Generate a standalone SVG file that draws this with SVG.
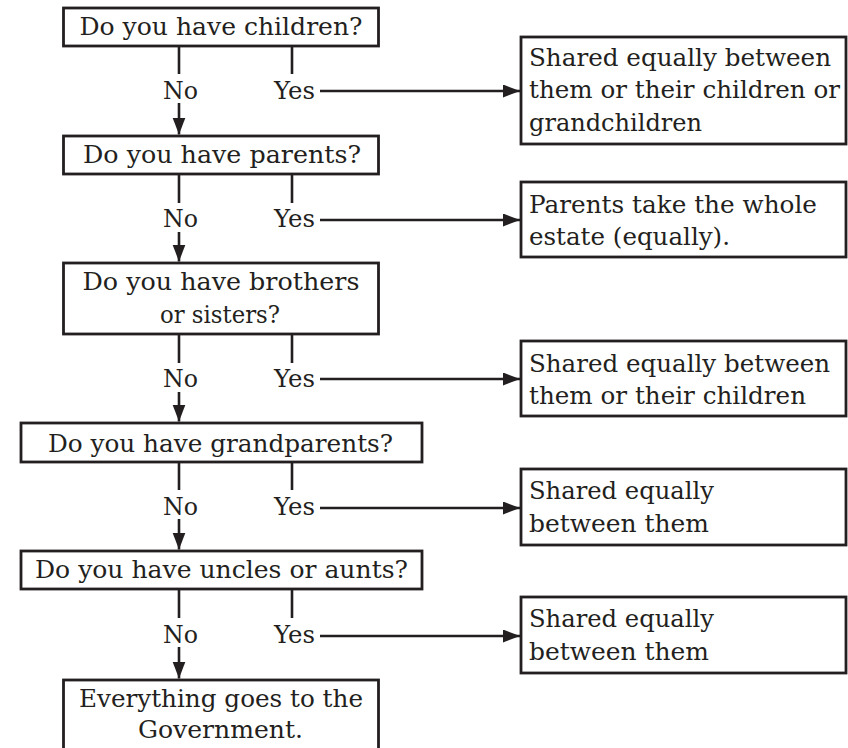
<svg xmlns="http://www.w3.org/2000/svg" width="848" height="748" viewBox="0 0 848 748">
<style>
.box{fill:#fff;stroke:#231f20;stroke-width:2.8}
.t{font-family:"DejaVu Serif","Liberation Serif",serif;font-size:25px;fill:#231f20}
.m{text-anchor:middle}
.c{fill:none;stroke:#231f20;stroke-width:2.6}
</style>
<defs>
<marker id="ah" markerUnits="userSpaceOnUse" markerWidth="18" markerHeight="14" refX="17" refY="6.5" orient="auto">
<path d="M0,0 L17,6.5 L0,13 Z" fill="#231f20"/>
</marker>
</defs>
<rect width="848" height="748" fill="#fff"/>
<g id="connectors">
<line class="c" x1="179" y1="46" x2="179" y2="74"/>
<line class="c" x1="292" y1="46" x2="292" y2="74"/>
<line class="c" x1="179" y1="103" x2="179" y2="134.5" marker-end="url(#ah)"/>
<line class="c" x1="320" y1="91" x2="520" y2="91" marker-end="url(#ah)"/>
<line class="c" x1="179" y1="174" x2="179" y2="203"/>
<line class="c" x1="292" y1="174" x2="292" y2="203"/>
<line class="c" x1="179" y1="232" x2="179" y2="261.5" marker-end="url(#ah)"/>
<line class="c" x1="320" y1="220" x2="520" y2="220" marker-end="url(#ah)"/>
<line class="c" x1="179" y1="334" x2="179" y2="363"/>
<line class="c" x1="292" y1="334" x2="292" y2="363"/>
<line class="c" x1="179" y1="392" x2="179" y2="421.5" marker-end="url(#ah)"/>
<line class="c" x1="320" y1="379" x2="520" y2="379" marker-end="url(#ah)"/>
<line class="c" x1="179" y1="462" x2="179" y2="490"/>
<line class="c" x1="292" y1="462" x2="292" y2="490"/>
<line class="c" x1="179" y1="519" x2="179" y2="549.5" marker-end="url(#ah)"/>
<line class="c" x1="320" y1="508" x2="520" y2="508" marker-end="url(#ah)"/>
<line class="c" x1="179" y1="589" x2="179" y2="618"/>
<line class="c" x1="292" y1="589" x2="292" y2="618"/>
<line class="c" x1="179" y1="647" x2="179" y2="678.5" marker-end="url(#ah)"/>
<line class="c" x1="320" y1="636" x2="520" y2="636" marker-end="url(#ah)"/>
<text class="t m" x="180.5" y="99" textLength="35" lengthAdjust="spacingAndGlyphs">No</text>
<text class="t m" x="294.5" y="99" textLength="41" lengthAdjust="spacingAndGlyphs">Yes</text>
<text class="t m" x="180.5" y="227" textLength="35" lengthAdjust="spacingAndGlyphs">No</text>
<text class="t m" x="294.5" y="227" textLength="41" lengthAdjust="spacingAndGlyphs">Yes</text>
<text class="t m" x="180.5" y="387" textLength="35" lengthAdjust="spacingAndGlyphs">No</text>
<text class="t m" x="294.5" y="387" textLength="41" lengthAdjust="spacingAndGlyphs">Yes</text>
<text class="t m" x="180.5" y="515" textLength="35" lengthAdjust="spacingAndGlyphs">No</text>
<text class="t m" x="294.5" y="515" textLength="41" lengthAdjust="spacingAndGlyphs">Yes</text>
<text class="t m" x="180.5" y="643" textLength="35" lengthAdjust="spacingAndGlyphs">No</text>
<text class="t m" x="294.5" y="643" textLength="41" lengthAdjust="spacingAndGlyphs">Yes</text>
</g>
<g id="q-children">
<rect class="box" x="63.5" y="8" width="315" height="38"/>
<text class="t m" x="221" y="35" textLength="283" lengthAdjust="spacingAndGlyphs">Do you have children?</text>
</g>
<g id="q-parents">
<rect class="box" x="63.5" y="136" width="315" height="38"/>
<text class="t m" x="222" y="163" textLength="278" lengthAdjust="spacingAndGlyphs">Do you have parents?</text>
</g>
<g id="q-siblings">
<rect class="box" x="63.5" y="263" width="315" height="71"/>
<text class="t m" x="221" y="290" textLength="277" lengthAdjust="spacingAndGlyphs">Do you have brothers</text>
<text class="t m" x="220" y="323" textLength="120" lengthAdjust="spacingAndGlyphs">or sisters?</text>
</g>
<g id="q-grandparents">
<rect class="box" x="21" y="423" width="401" height="39"/>
<text class="t m" x="220.5" y="452" textLength="345" lengthAdjust="spacingAndGlyphs">Do you have grandparents?</text>
</g>
<g id="q-uncles">
<rect class="box" x="21" y="551" width="401" height="38"/>
<text class="t m" x="221.5" y="578" textLength="373" lengthAdjust="spacingAndGlyphs">Do you have uncles or aunts?</text>
</g>
<g id="government">
<rect class="box" x="63.5" y="680" width="315" height="80"/>
<text class="t m" x="221" y="707" textLength="284" lengthAdjust="spacingAndGlyphs">Everything goes to the</text>
<text class="t m" x="220.5" y="738" textLength="165" lengthAdjust="spacingAndGlyphs">Government.</text>
</g>
<g id="r-children">
<rect class="box" x="521" y="37" width="325" height="107"/>
<text class="t" x="529" y="65.5" textLength="302" lengthAdjust="spacingAndGlyphs">Shared equally between</text>
<text class="t" x="529" y="98" textLength="311" lengthAdjust="spacingAndGlyphs">them or their children or</text>
<text class="t" x="529" y="130.5" textLength="173" lengthAdjust="spacingAndGlyphs">grandchildren</text>
</g>
<g id="r-parents">
<rect class="box" x="521" y="182" width="325" height="75"/>
<text class="t" x="529" y="213" textLength="288" lengthAdjust="spacingAndGlyphs">Parents take the whole</text>
<text class="t" x="529" y="245" textLength="201" lengthAdjust="spacingAndGlyphs">estate (equally).</text>
</g>
<g id="r-siblings">
<rect class="box" x="521" y="341" width="325" height="75"/>
<text class="t" x="529" y="372" textLength="301" lengthAdjust="spacingAndGlyphs">Shared equally between</text>
<text class="t" x="529" y="404" textLength="277" lengthAdjust="spacingAndGlyphs">them or their children</text>
</g>
<g id="r-grandparents">
<rect class="box" x="521" y="469" width="325" height="76"/>
<text class="t" x="529" y="499" textLength="185" lengthAdjust="spacingAndGlyphs">Shared equally</text>
<text class="t" x="529" y="532" textLength="180" lengthAdjust="spacingAndGlyphs">between them</text>
</g>
<g id="r-uncles">
<rect class="box" x="521" y="597" width="325" height="76"/>
<text class="t" x="529" y="627" textLength="185" lengthAdjust="spacingAndGlyphs">Shared equally</text>
<text class="t" x="529" y="660" textLength="180" lengthAdjust="spacingAndGlyphs">between them</text>
</g>
</svg>
